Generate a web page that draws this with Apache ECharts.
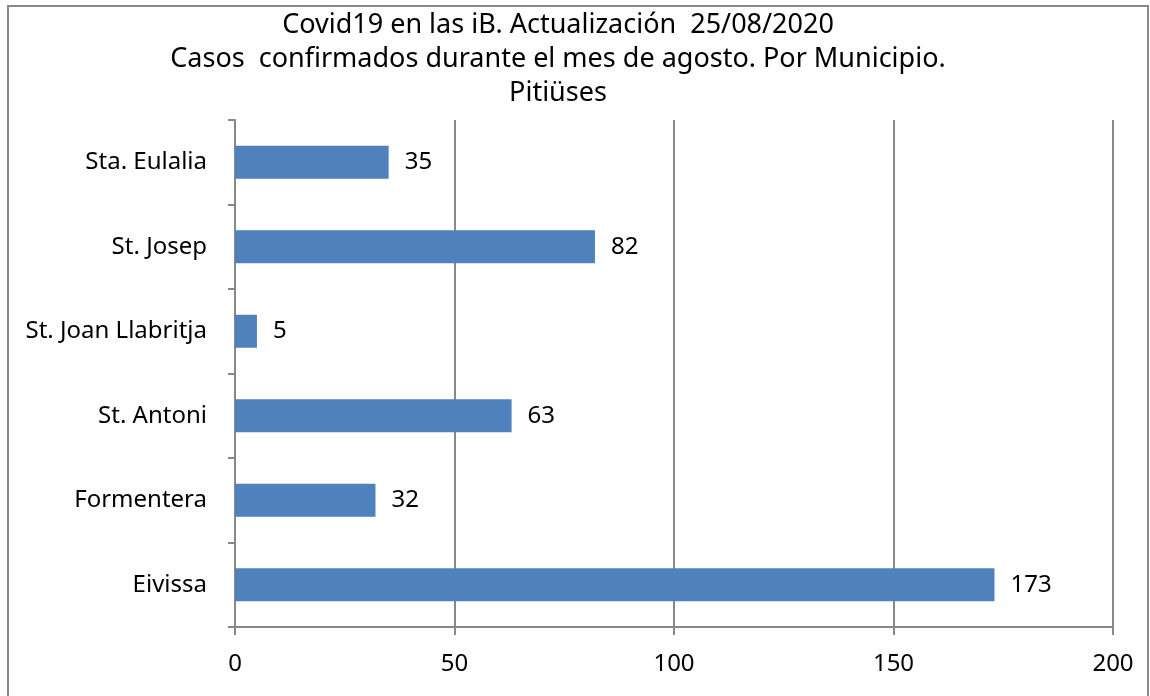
<!DOCTYPE html>
<html>
<head>
<meta charset="utf-8">
<script src="https://cdn.jsdelivr.net/npm/echarts@6/dist/echarts.min.js"></script>
<style>
  html, body { margin: 0; padding: 0; background: #fff; }
  #chart { width: 1150px; height: 696px; }
</style>
</head>
<body>
<div id="chart"></div>
<script>
// datos (de abajo a arriba)
var municipios = ['Eivissa', 'Formentera', 'St. Antoni', 'St. Joan Llabritja', 'St. Josep', 'Sta. Eulalia'];
var casos = [173, 32, 63, 5, 82, 35];
var titulo = 'Covid19 en las iB. Actualización  25/08/2020\nCasos  confirmados durante el mes de agosto. Por Municipio.\nPitiüses';

var myChart = echarts.init(document.getElementById('chart'));

var option = {
    animation: false,
    textStyle: { fontFamily: 'Noto Sans' },
    title: {
        text: titulo,
        left: 553,
        top: 3,
        textAlign: 'center',
        textStyle: {
            fontFamily: 'Noto Sans',
            fontSize: 27,
            fontWeight: 'normal',
            color: '#000',
            lineHeight: 34
        }
    },
    graphic: [{
        type: 'rect',
        shape: { x: 8, y: 6, width: 1140, height: 700 },
        style: { fill: 'none', stroke: '#888', lineWidth: 2 },
        silent: true
    }],
    grid: { left: 235, right: 37, top: 120, bottom: 69 },
    xAxis: {
        type: 'value',
        min: 0,
        max: 200,
        interval: 50,
        axisLine: { show: true, lineStyle: { color: '#888', width: 2 } },
        axisTick: { show: true, length: 8, lineStyle: { color: '#888', width: 2 } },
        splitLine: { show: true, lineStyle: { color: '#888', width: 2 } },
        axisLabel: { color: '#000', fontSize: 24, margin: 25 }
    },
    yAxis: {
        type: 'category',
        data: municipios,
        axisLine: { show: true, lineStyle: { color: '#888', width: 2 } },
        axisTick: { show: true, length: 7, lineStyle: { color: '#888', width: 2 } },
        axisLabel: { color: '#000', fontSize: 24, margin: 28 }
    },
    series: [{
        type: 'bar',
        data: casos,
        barWidth: 33,
        itemStyle: { color: '#4f81bd' },
        label: {
            show: true,
            position: 'right',
            distance: 16,
            color: '#000',
            fontSize: 24
        }
    }]
};

myChart.setOption(option);
</script>
</body>
</html>
